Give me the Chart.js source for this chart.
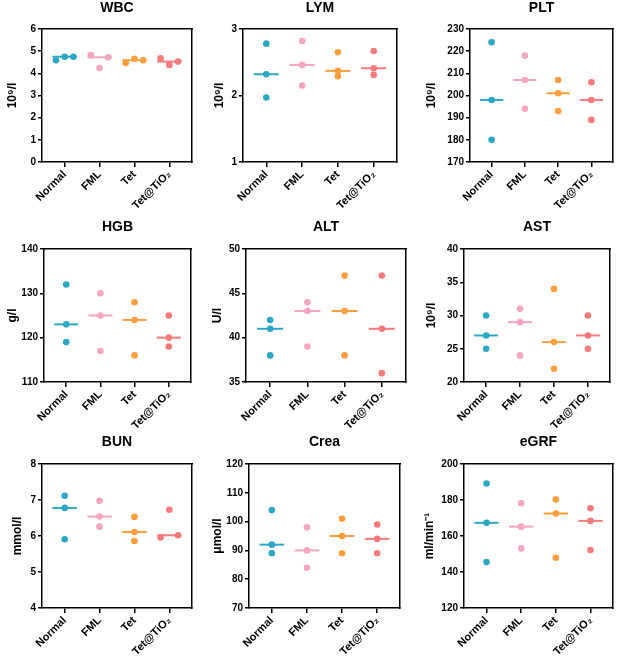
<!DOCTYPE html>
<html>
<head>
<meta charset="utf-8">
<script src="https://cdn.jsdelivr.net/npm/chart.js@4.4.1/dist/chart.umd.min.js"></script>
<style>
  body { margin: 0; background: #fff; }
  #wrap { position: relative; width: 617px; height: 660px; }
  #wrap canvas { position: absolute; }
</style>
</head>
<body>
<div id="wrap"></div>
<script>
// ---- data ----
const groups = ['Normal', 'FML', 'Tet', 'Tet@TiO₂'];
const groupColors = ['#2ca8c5', '#f3a6bd', '#fa9e3e', '#f47a7c'];

const panelTitles = ['WBC', 'LYM', 'PLT', 'HGB', 'ALT', 'AST', 'BUN', 'Crea', 'eGRF'];
const yTitles = ['10⁹/l', '10⁹/l', '10⁹/l', 'g/l', 'U/l', '10⁹/l', 'mmol/l', 'μmol/l', 'ml/min⁻¹'];
const yMins  = [0, 1, 170, 110, 35, 20, 4, 70, 120];
const yMaxs  = [6, 3, 230, 140, 50, 40, 8, 120, 200];
const ySteps = [1, 1, 10, 10, 5, 5, 1, 10, 20];

// one list per group: Normal, FML, Tet, Tet@TiO2
const wbc  = [[4.59, 4.75, 4.75], [4.83, 4.24, 4.72], [4.47, 4.66, 4.59], [4.68, 4.38, 4.53]];
const lym  = [[2.78, 2.32, 1.97], [2.82, 2.46, 2.15], [2.65, 2.37, 2.29], [2.67, 2.41, 2.31]];
const plt  = [[224, 198, 180], [218, 207, 194], [207, 201, 193], [206, 198, 189]];
const hgb  = [[132, 123, 119], [130, 125, 117], [128, 124, 116], [125, 120, 118]];
const alt  = [[42, 41, 38], [44, 43, 39], [47, 43, 38], [47, 41, 36]];
const ast  = [[30, 27, 25], [31, 29, 24], [34, 26, 22], [30, 27, 25]];
const bun  = [[7.12, 6.78, 5.91], [6.98, 6.54, 6.26], [6.53, 6.11, 5.86], [5.96, 6.73, 6.02]];
const crea = [[104, 92, 89], [98, 90, 84], [101, 95, 89], [99, 94, 89]];
const egrf = [[189.2, 167.3, 145.5], [178.2, 165.2, 153.1], [180.3, 172.5, 147.9], [175.4, 168.4, 152.2]];

const panelValues = [wbc, lym, plt, hgb, alt, ast, bun, crea, egrf];

// ---- layout (page pixels) ----
const colX = [0, 205, 410], colW = [205, 205, 207];
const rowY = [0, 215, 435], rowH = [215, 220, 225];
// plot box L,T,R,B + title centre y + y-title centre x
const boxes = [
  [42, 29, 192, 162, 8, 13], [243, 29, 397, 162, 8, 220], [470, 29, 614, 162, 8, 432],
  [44, 249, 191, 382, 227, 13], [246, 249, 409, 382, 227, 218], [464, 249, 610, 382, 227, 432],
  [42, 464, 192, 608, 440, 18], [249, 464, 400, 608, 440, 218], [464, 464, 614, 608, 440, 430]
];

Chart.defaults.font.family = '"Liberation Sans", Arial, sans-serif';
Chart.defaults.color = '#000';

function median(vals) {
  const s = [...vals].sort((a, b) => a - b);
  return s[Math.floor(s.length / 2)];
}

// spread a column sideways when its dots would sit on top of each other
function spread(vals, range) {
  const s = [...vals].sort((a, b) => a - b);
  let gap = Infinity;
  for (let i = 1; i < s.length; i++) gap = Math.min(gap, s[i] - s[i - 1]);
  if (gap / range >= 0.033) return vals.map(() => 0);
  return vals.map((v, i) => (i - (vals.length - 1) / 2) * 0.25);
}

function makePanel(i) {
  const col = i % 3, row = Math.floor(i / 3);
  const cx = colX[col], cy = rowY[row], cw = colW[col], ch = rowH[row];
  const [L, T, R, B, titleY, yTitleX] = boxes[i];

  const canvas = document.createElement('canvas');
  canvas.width = cw;
  canvas.height = ch;
  canvas.style.left = cx + 'px';
  canvas.style.top = cy + 'px';
  document.getElementById('wrap').appendChild(canvas);

  const titlePadTop = Math.max(0, titleY - cy - 7);
  const titlePadBottom = (T - cy) - 14 - titlePadTop;

  const datasets = [];
  panelValues[i].forEach((vals, g) => {
    const off = spread(vals, yMaxs[i] - yMins[i]);
    datasets.push({
      data: vals.map((v, k) => ({ x: g + off[k], y: v })),
      backgroundColor: groupColors[g],
      borderWidth: 0,
      pointRadius: 3.3,
      order: 0
    });
    const m = median(vals);
    datasets.push({
      data: [{ x: g - 0.35, y: m }, { x: g + 0.35, y: m }],
      showLine: true,
      borderColor: groupColors[g],
      borderWidth: 2,
      pointRadius: 0,
      order: 1
    });
  });

  const axisLine = { display: true, color: '#000', width: 1.5 };

  new Chart(canvas, {
    type: 'scatter',
    data: { datasets },
    options: {
      responsive: false,
      animation: false,
      layout: { padding: { left: 0, top: 0, right: cx + cw - R, bottom: 0 } },
      plugins: {
        legend: { display: false },
        tooltip: { enabled: false },
        title: {
          display: true,
          fullSize: false,
          text: panelTitles[i],
          color: '#000',
          font: { size: 14, weight: 'bold', lineHeight: 1 },
          padding: { top: titlePadTop, bottom: titlePadBottom }
        }
      },
      scales: {
        x: {
          type: 'linear',
          position: 'bottom',
          min: -0.65,
          max: 3.65,
          afterBuildTicks: s => { s.ticks = groups.map((_, k) => ({ value: k })); },
          afterFit: s => { s.height = cy + ch - B; },
          ticks: {
            callback: v => groups[v],
            autoSkip: false,
            minRotation: 45,
            maxRotation: 45,
            padding: 1,
            color: '#000',
            font: { size: 11, weight: 'bold' }
          },
          grid: { display: true, drawOnChartArea: false, drawTicks: true, tickLength: 5, color: '#000', lineWidth: 1.5 },
          border: axisLine
        },
        y: {
          type: 'linear',
          position: 'left',
          min: yMins[i],
          max: yMaxs[i],
          afterFit: s => { s.width = L - cx; },
          ticks: { stepSize: ySteps[i], padding: 2, color: '#000', font: { size: 10, weight: 'bold' } },
          grid: { display: true, drawOnChartArea: false, drawTicks: true, tickLength: 4, color: '#000', lineWidth: 1.5 },
          border: axisLine,
          title: {
            display: true,
            text: yTitles[i],
            color: '#000',
            font: { size: 12, weight: 'bold', lineHeight: 1 },
            padding: { top: yTitleX - cx - 6, bottom: 0 }
          }
        },
        x2: {
          type: 'linear',
          position: 'top',
          ticks: { display: false },
          grid: { display: false, drawTicks: false },
          border: axisLine,
          afterFit: s => { s.height = 0; }
        },
        y2: {
          type: 'linear',
          position: 'right',
          ticks: { display: false },
          grid: { display: false, drawTicks: false },
          border: axisLine,
          afterFit: s => { s.width = 0; }
        }
      }
    }
  });
}

for (let i = 0; i < 9; i++) makePanel(i);
</script>
</body>
</html>
